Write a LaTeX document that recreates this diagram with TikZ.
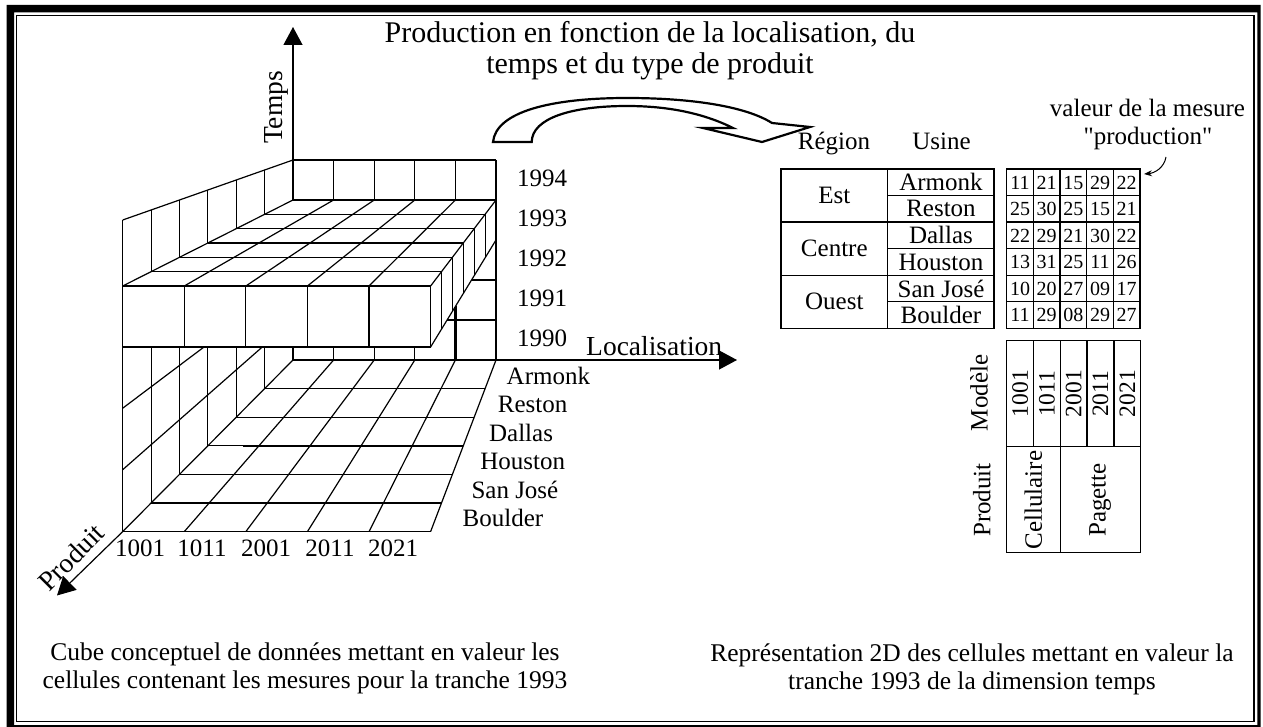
\documentclass[tikz,border=0pt]{standalone}
\usepackage{fontspec}
\setmainfont{Liberation Serif}[Ligatures=TeXOff]
\usetikzlibrary{arrows.meta}
\begin{document}
\begin{tikzpicture}[x=1pt,y=-1pt,
  gridline/.style={line width=1.2pt},
  thickline/.style={line width=2.4pt},
  axisarrow/.style={line width=1.2pt,-{Triangle[length=18pt,width=19pt]}},
  lbl/.style={font=\fontsize{25}{29}\selectfont,inner sep=0pt},
  axlbl/.style={font=\fontsize{27.5}{31}\selectfont,inner sep=0pt},
  ttl/.style={font=\fontsize{30}{34}\selectfont,inner sep=0pt},
  captxt/.style={font=\fontsize{25.5}{29}\selectfont,inner sep=0pt},
  val/.style={font=\fontsize{20}{24}\selectfont,inner sep=0pt},
  pnum/.style={font=\fontsize{23.5}{27}\selectfont,inner sep=0pt,rotate=90},
  cellline/.style={line width=1.3pt}]
\useasboundingbox (0,0) rectangle (1263,727);
% frame
\fill[black,even odd rule] (6.7,5) rectangle (1260.5,727.5) (14,12.3) rectangle (1257.3,725);
\draw[line width=1.3pt] (16.5,15.5) rectangle (1254,721.8);

% title
\node[ttl,anchor=base] (title1) at (650,42.5) {Production en fonction de la localisation, du};
\node[ttl,anchor=base] (title2) at (650,74) {temps et du type de produit};

% ---------- cube ----------
% back wall
\foreach \j in {0,...,5} \draw[gridline] ({293+40.6*\j},160) -- ({293+40.6*\j},360);
\foreach \h in {0,...,5} \draw[gridline] (293,{160+40*\h}) -- (496,{160+40*\h});
% left wall
\draw[gridline] (293,160) -- (122.7,220);
\foreach \d in {0,...,6} \draw[gridline] ({293-28.38*\d},{160+10*\d}) -- ({293-28.38*\d},{360+28.6*\d});
\draw[gridline] (293,320) -- (122.7,469.7);
\draw[gridline] (293,280) -- (122.7,408.2);
% floor
\foreach \k in {0,...,6} \draw[gridline] ({293-28.38*\k},{360+28.6*\k}) -- ({496-10.9*\k},{360+28.6*\k});
\foreach \j in {0,...,5} \draw[gridline] ({293+40.6*\j},360) -- ({122.7+61.58*\j},531.6);
\draw[thickline] (293,360) -- (455.4,360);
\draw[thickline] (455.4,306) -- (455.4,360);
\draw[thickline] (243,445.8) -- (463.3,445.8);
% slab 1993
\fill[white] (293,200) -- (496,200) -- (496,240) -- (430.6,347) -- (122.7,347) -- (122.7,286) -- cycle;
\foreach \d in {0,...,6} \draw[gridline] ({293-28.38*\d},{200+14.33*\d}) -- ({496-10.9*\d},{200+14.33*\d});
\foreach \j in {0,...,5} \draw[gridline] ({293+40.6*\j},200) -- ({122.7+61.58*\j},286);
\foreach \j in {0,...,5} \draw[gridline] ({122.7+61.58*\j},286) -- ({122.7+61.58*\j},347);
\draw[gridline] (122.7,347) -- (430.6,347);
\foreach \d in {0,...,6} \draw[gridline] ({496-10.9*\d},{200+14.33*\d}) -- ({496-10.9*\d},{240+17.83*\d});
\draw[gridline] (496,240) -- (430.6,347);

% axes
\coordinate (origT) at (293,160);
\coordinate (tipT) at (293,27);
\coordinate (origL) at (496,360);
\coordinate (tipL) at (737,360);
\coordinate (origP) at (122.7,531.6);
\coordinate (tipP) at (57,595.5);
\draw[axisarrow] (origT) -- (tipT);
\draw[axisarrow] (origL) -- (tipL);
\draw[axisarrow] (origP) -- (tipP);
\node[axlbl,rotate=90] (temps) at (276.5,107.5) {Temps};
\node[axlbl,anchor=base west] (loc) at (586,355) {Localisation};
\node[axlbl,rotate=45] (prod) at (71,557) {Produit};

% years
\foreach \yr [count=\i from 0] in {1994,1993,1992,1991,1990}
  \node[lbl] (y\yr) at (542,{178+40*\i}) {\yr};
% locations
\foreach \nm/\lab [count=\i from 0] in {arm/Armonk,res/Reston,dal/Dallas,hou/Houston,sj/San José,bou/Boulder}
  \node[lbl,anchor=west] (l\nm) at ({506.5-8.8*\i},{376+28.4*\i}) {\lab};
% products
\foreach \pn/\px in {1001/140,1011/202,2001/266,2011/330,2021/393}
  \node[lbl] (p\pn) at (\px,548) {\pn};

% curved hollow arrow
\draw[line width=2.2pt,fill=white,line join=miter]
  (493,142) .. controls (496,112) and (550,98) .. (627,98)
  .. controls (690,98) and (745,106) .. (772,123)
  -- (810,127) -- (762,142) -- (703,128) -- (733,128)
  .. controls (705,114) and (670,106) .. (627,106)
  .. controls (572,106) and (532,118) .. (531.7,142) -- cycle;

% ---------- right tables ----------
\node[lbl,anchor=base] (region) at (834,150) {Région};
\node[lbl,anchor=base] (usine) at (941.5,150) {Usine};
\node[lbl,anchor=base] (mes1) at (1147.5,116.7) {valeur de la mesure};
\node[lbl,anchor=base] (mes2) at (1148,145) {"production"};

\draw[cellline] (781,169) rectangle (994,328.3);
\draw[cellline] (887.7,169) -- (887.7,328.3);
\foreach \k in {2,4} \draw[cellline] (781,{169+26.55*\k}) -- (994,{169+26.55*\k});
\foreach \k in {1,3,5} \draw[cellline] (887.7,{169+26.55*\k}) -- (994,{169+26.55*\k});
\node[lbl] (est) at (834.3,195.5) {Est};
\node[lbl] (centre) at (834.3,248.6) {Centre};
\node[lbl] (ouest) at (834.3,301.7) {Ouest};
\foreach \lab [count=\i from 0] in {Armonk,Reston,Dallas,Houston,San José,Boulder}
  \node[lbl] (u\i) at (941,{182.3+26.55*\i}) {\lab};

\draw[cellline] (1006.7,169) rectangle (1140,328.3);
\foreach \c in {1,...,4} \draw[cellline] ({1006.7+26.67*\c},169) -- ({1006.7+26.67*\c},328.3);
\foreach \k in {1,...,5} \draw[cellline] (1006.7,{169+26.55*\k}) -- (1140,{169+26.55*\k});
\foreach \row [count=\r from 0] in {{11,21,15,29,22},{25,30,25,15,21},{22,29,21,30,22},{13,31,25,11,26},{10,20,27,09,17},{11,29,08,29,27}}
  \foreach \v [count=\c from 0] in \row
    \node[val] (v\r\c) at ({1020+26.67*\c},{182.5+26.55*\r}) {\v};
\coordinate (arrS) at (1166,157);
\draw[line width=1pt,-{Stealth[length=8pt,width=6pt]}] (arrS) to[out=-100,in=5] (1144,174);

% product table
\draw[cellline] (1006.7,340.7) rectangle (1140.7,552.7);
\draw[cellline] (1006.7,446.7) -- (1140.7,446.7);
\foreach \c in {1,...,4} \draw[cellline] ({1006.7+26.8*\c},340.7) -- ({1006.7+26.8*\c},446.7);
\draw[cellline] (1060.3,446.7) -- (1060.3,552.7);
\foreach \pn [count=\i from 0] in {1001,1011,2001,2011,2021}
  \node[pnum] (m\pn) at ({1020.1+26.8*\i},393.7) {\pn};
\node[lbl,rotate=90] (cell) at (1033.3,500) {Cellulaire};
\node[lbl,rotate=90] (pag) at (1100,500) {Pagette};
\node[lbl,rotate=90] (modele) at (979,393) {Modèle};
\node[lbl,rotate=90] (produit) at (981.7,500) {Produit};

% captions
\node[captxt,anchor=base] (capL1) at (305,660) {Cube conceptuel de données mettant en valeur les};
\node[captxt,anchor=base] (capL2) at (305,688.6) {cellules contenant les mesures pour la tranche 1993};
\node[captxt,anchor=base] (capR1) at (972,661) {Représentation 2D des cellules mettant en valeur la};
\node[captxt,anchor=base] (capR2) at (972,689.5) {tranche 1993 de la dimension temps};
\end{tikzpicture}
\end{document}
